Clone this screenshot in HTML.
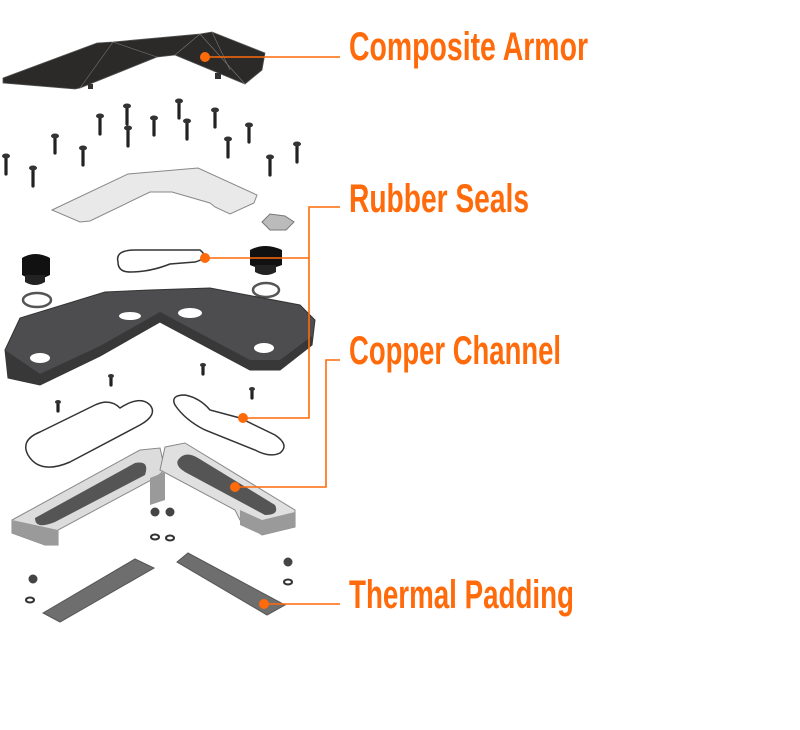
<!DOCTYPE html>
<html><head><meta charset="utf-8"><style>
html,body{margin:0;padding:0;background:#fff;}
svg{display:block}
text{font-family:"Liberation Sans Narrow","Liberation Sans",sans-serif;font-weight:bold;fill:#ff6a0a;font-size:40px}
</style></head><body>
<svg width="800" height="730" viewBox="0 0 800 730" xmlns="http://www.w3.org/2000/svg">
<!-- Armor -->
<polygon points="3,78 97,43 113,42 200,34 212,32 265,53 262,70 245,84 175,55 157,57 80,88 75,89 3,83" fill="#2b2a29" stroke="#555" stroke-width="0.8"/>
<polyline points="113,42 80,88 M0,0" fill="none" stroke="#777" stroke-width="0.6"/>
<line x1="113" y1="42" x2="157" y2="57" stroke="#777" stroke-width="0.6"/>
<line x1="200" y1="34" x2="175" y2="55" stroke="#777" stroke-width="0.6"/>
<line x1="200" y1="34" x2="245" y2="84" stroke="#777" stroke-width="0.6"/>
<line x1="212" y1="32" x2="230" y2="70" stroke="#777" stroke-width="0.6"/>
<rect x="88" y="84" width="5" height="5" fill="#333"/><rect x="215" y="73" width="6" height="6" fill="#333"/>
<!-- screws -->
<g stroke="#222" stroke-width="3.2" stroke-linecap="round">
<line x1="6" y1="158" x2="6" y2="174"/><line x1="33" y1="170" x2="33" y2="186"/><line x1="55" y1="138" x2="55" y2="153"/>
<line x1="83" y1="150" x2="83" y2="165"/><line x1="100" y1="118" x2="100" y2="134"/><line x1="127" y1="108" x2="127" y2="124"/>
<line x1="128" y1="130" x2="128" y2="146"/><line x1="154" y1="120" x2="154" y2="135"/><line x1="179" y1="103" x2="179" y2="118"/>
<line x1="187" y1="123" x2="187" y2="139"/><line x1="215" y1="112" x2="215" y2="127"/><line x1="228" y1="141" x2="228" y2="157"/>
<line x1="249" y1="127" x2="249" y2="142"/><line x1="270" y1="159" x2="270" y2="175"/><line x1="297" y1="146" x2="297" y2="162"/>
<line x1="111" y1="377" x2="111" y2="385"/><line x1="203" y1="366" x2="203" y2="374"/><line x1="252" y1="390" x2="252" y2="398"/><line x1="58" y1="403" x2="58" y2="411"/>
</g>
<g fill="#333">
<ellipse cx="6" cy="156" rx="4" ry="2.5"/><ellipse cx="33" cy="168" rx="4" ry="2.5"/><ellipse cx="55" cy="136" rx="4" ry="2.5"/>
<ellipse cx="83" cy="148" rx="4" ry="2.5"/><ellipse cx="100" cy="116" rx="4" ry="2.5"/><ellipse cx="127" cy="106" rx="4" ry="2.5"/>
<ellipse cx="128" cy="128" rx="4" ry="2.5"/><ellipse cx="154" cy="118" rx="4" ry="2.5"/><ellipse cx="179" cy="101" rx="4" ry="2.5"/>
<ellipse cx="187" cy="121" rx="4" ry="2.5"/><ellipse cx="215" cy="110" rx="4" ry="2.5"/><ellipse cx="228" cy="139" rx="4" ry="2.5"/>
<ellipse cx="249" cy="125" rx="4" ry="2.5"/><ellipse cx="270" cy="157" rx="4" ry="2.5"/><ellipse cx="297" cy="144" rx="4" ry="2.5"/>
<ellipse cx="111" cy="376" rx="3" ry="2"/><ellipse cx="203" cy="365" rx="3" ry="2"/><ellipse cx="252" cy="389" rx="3" ry="2"/><ellipse cx="58" cy="402" rx="3" ry="2"/>
</g>
<!-- plate -->
<polygon points="52,210 128,174 198,168 257,195 254,203 230,214 215,207 210,203 172,192 150,192 90,221 80,222" fill="#e9e9e9" stroke="#888" stroke-width="1"/>
<!-- hex emblem -->
<polygon points="262,222 270,214 285,216 294,222 286,230 270,230" fill="#bbb" stroke="#777"/>
<!-- plugs -->
<path d="M22,258 Q35,250 50,258 L50,275 Q35,283 22,275 Z" fill="#111"/>
<path d="M25,275 L25,282 Q35,288 45,282 L45,275 Z" fill="#222"/>
<path d="M250,250 Q265,242 282,250 L282,265 Q265,272 250,265 Z" fill="#111"/>
<path d="M255,265 L255,272 Q266,278 276,272 L276,265 Z" fill="#222"/>
<ellipse cx="37" cy="300" rx="14" ry="7" fill="none" stroke="#555" stroke-width="2.5"/>
<ellipse cx="266" cy="290" rx="13" ry="7" fill="none" stroke="#555" stroke-width="2.5"/>
<!-- seal top -->
<path d="M118,262 Q115,250 135,250 L200,250 Q210,258 195,262 L170,264 Q150,272 130,272 Q118,272 118,262 Z" fill="none" stroke="#333" stroke-width="1.5"/>
<!-- housing -->
<polygon points="5,350 20,318 105,292 150,290 210,288 300,305 315,320 312,345 280,370 250,370 160,322 100,356 40,385 8,378" fill="#4d4d4f" stroke="#333"/>
<polygon points="5,350 8,378 40,385 100,356 160,322 250,370 280,370 312,345 312,336 280,360 250,360 160,312 100,346 40,374" fill="#383838"/>
<ellipse cx="40" cy="358" rx="10" ry="5" fill="#fff"/><ellipse cx="130" cy="316" rx="11" ry="4" fill="#fff"/>
<ellipse cx="190" cy="313" rx="12" ry="5" fill="#fff"/><ellipse cx="264" cy="348" rx="10" ry="5" fill="#fff"/>
<!-- lower gaskets -->
<path d="M28,455 Q20,440 40,432 L95,405 Q110,398 120,408 Q140,395 150,405 Q158,415 140,425 L70,462 Q40,475 28,455 Z" fill="none" stroke="#333" stroke-width="1.5"/>
<path d="M175,405 Q170,395 185,395 Q200,398 210,410 L240,418 L275,435 Q290,445 280,453 Q270,458 255,450 L205,430 Q185,420 175,405 Z" fill="none" stroke="#333" stroke-width="1.5"/>
<!-- copper channel -->
<polygon points="12,520 140,450 160,448 165,470 155,478 58,530 58,545 45,545 12,533" fill="#dcdcdc" stroke="#888"/>
<polygon points="12,520 12,533 45,545 58,545 58,530" fill="#9a9a9a"/>
<path d="M35,518 L135,463 Q150,460 145,475 L55,522 Q35,530 35,518 Z" fill="#555"/>
<polygon points="165,447 185,443 295,510 295,527 262,535 240,520 235,510 160,470" fill="#e0e0e0" stroke="#888"/>
<polygon points="240,510 262,520 295,512 295,527 262,535 240,525" fill="#9a9a9a"/>
<path d="M178,460 Q185,450 198,458 L275,505 Q280,515 265,515 L185,472 Q175,466 178,460 Z" fill="#555"/>
<polygon points="150,478 165,472 165,500 150,505" fill="#9a9a9a"/>
<!-- nuts & washers -->
<g fill="#444"><circle cx="155" cy="512" r="4.5"/><circle cx="170" cy="512" r="4.5"/><circle cx="288" cy="562" r="4.5"/><circle cx="33" cy="579" r="4.5"/></g>
<g fill="none" stroke="#333" stroke-width="2"><ellipse cx="155" cy="537" rx="4" ry="2.5"/><ellipse cx="170" cy="538" rx="4" ry="2.5"/><ellipse cx="288" cy="582" rx="4" ry="2.5"/><ellipse cx="30" cy="600" rx="4" ry="2.5"/></g>
<!-- thermal pads -->
<polygon points="43,613 135,559 154,568 60,622" fill="#6e6e6e" stroke="#555"/>
<polygon points="177,562 188,553 285,605 267,615" fill="#6e6e6e" stroke="#555"/>
<!-- leader lines -->
<g stroke="#ff6a0a" stroke-width="1.6" fill="none">
<line x1="205" y1="57" x2="340" y2="57"/>
<polyline points="340,207 309,207 309,418 243,418"/>
<line x1="205" y1="258" x2="309" y2="258"/>
<polyline points="340,360 326,360 326,487 235,487"/>
<line x1="264" y1="604" x2="340" y2="604"/>
</g>
<g fill="#ff6a0a"><circle cx="205" cy="57" r="5"/><circle cx="205" cy="258" r="5"/><circle cx="243" cy="418" r="5"/><circle cx="235" cy="487" r="5"/><circle cx="264" cy="604" r="5"/></g>
<text x="349" y="60" textLength="239" lengthAdjust="spacingAndGlyphs">Composite Armor</text>
<text x="349" y="212" textLength="180" lengthAdjust="spacingAndGlyphs">Rubber Seals</text>
<text x="349" y="364" textLength="212" lengthAdjust="spacingAndGlyphs">Copper Channel</text>
<text x="349" y="608" textLength="225" lengthAdjust="spacingAndGlyphs">Thermal Padding</text>
</svg>
</body></html>
